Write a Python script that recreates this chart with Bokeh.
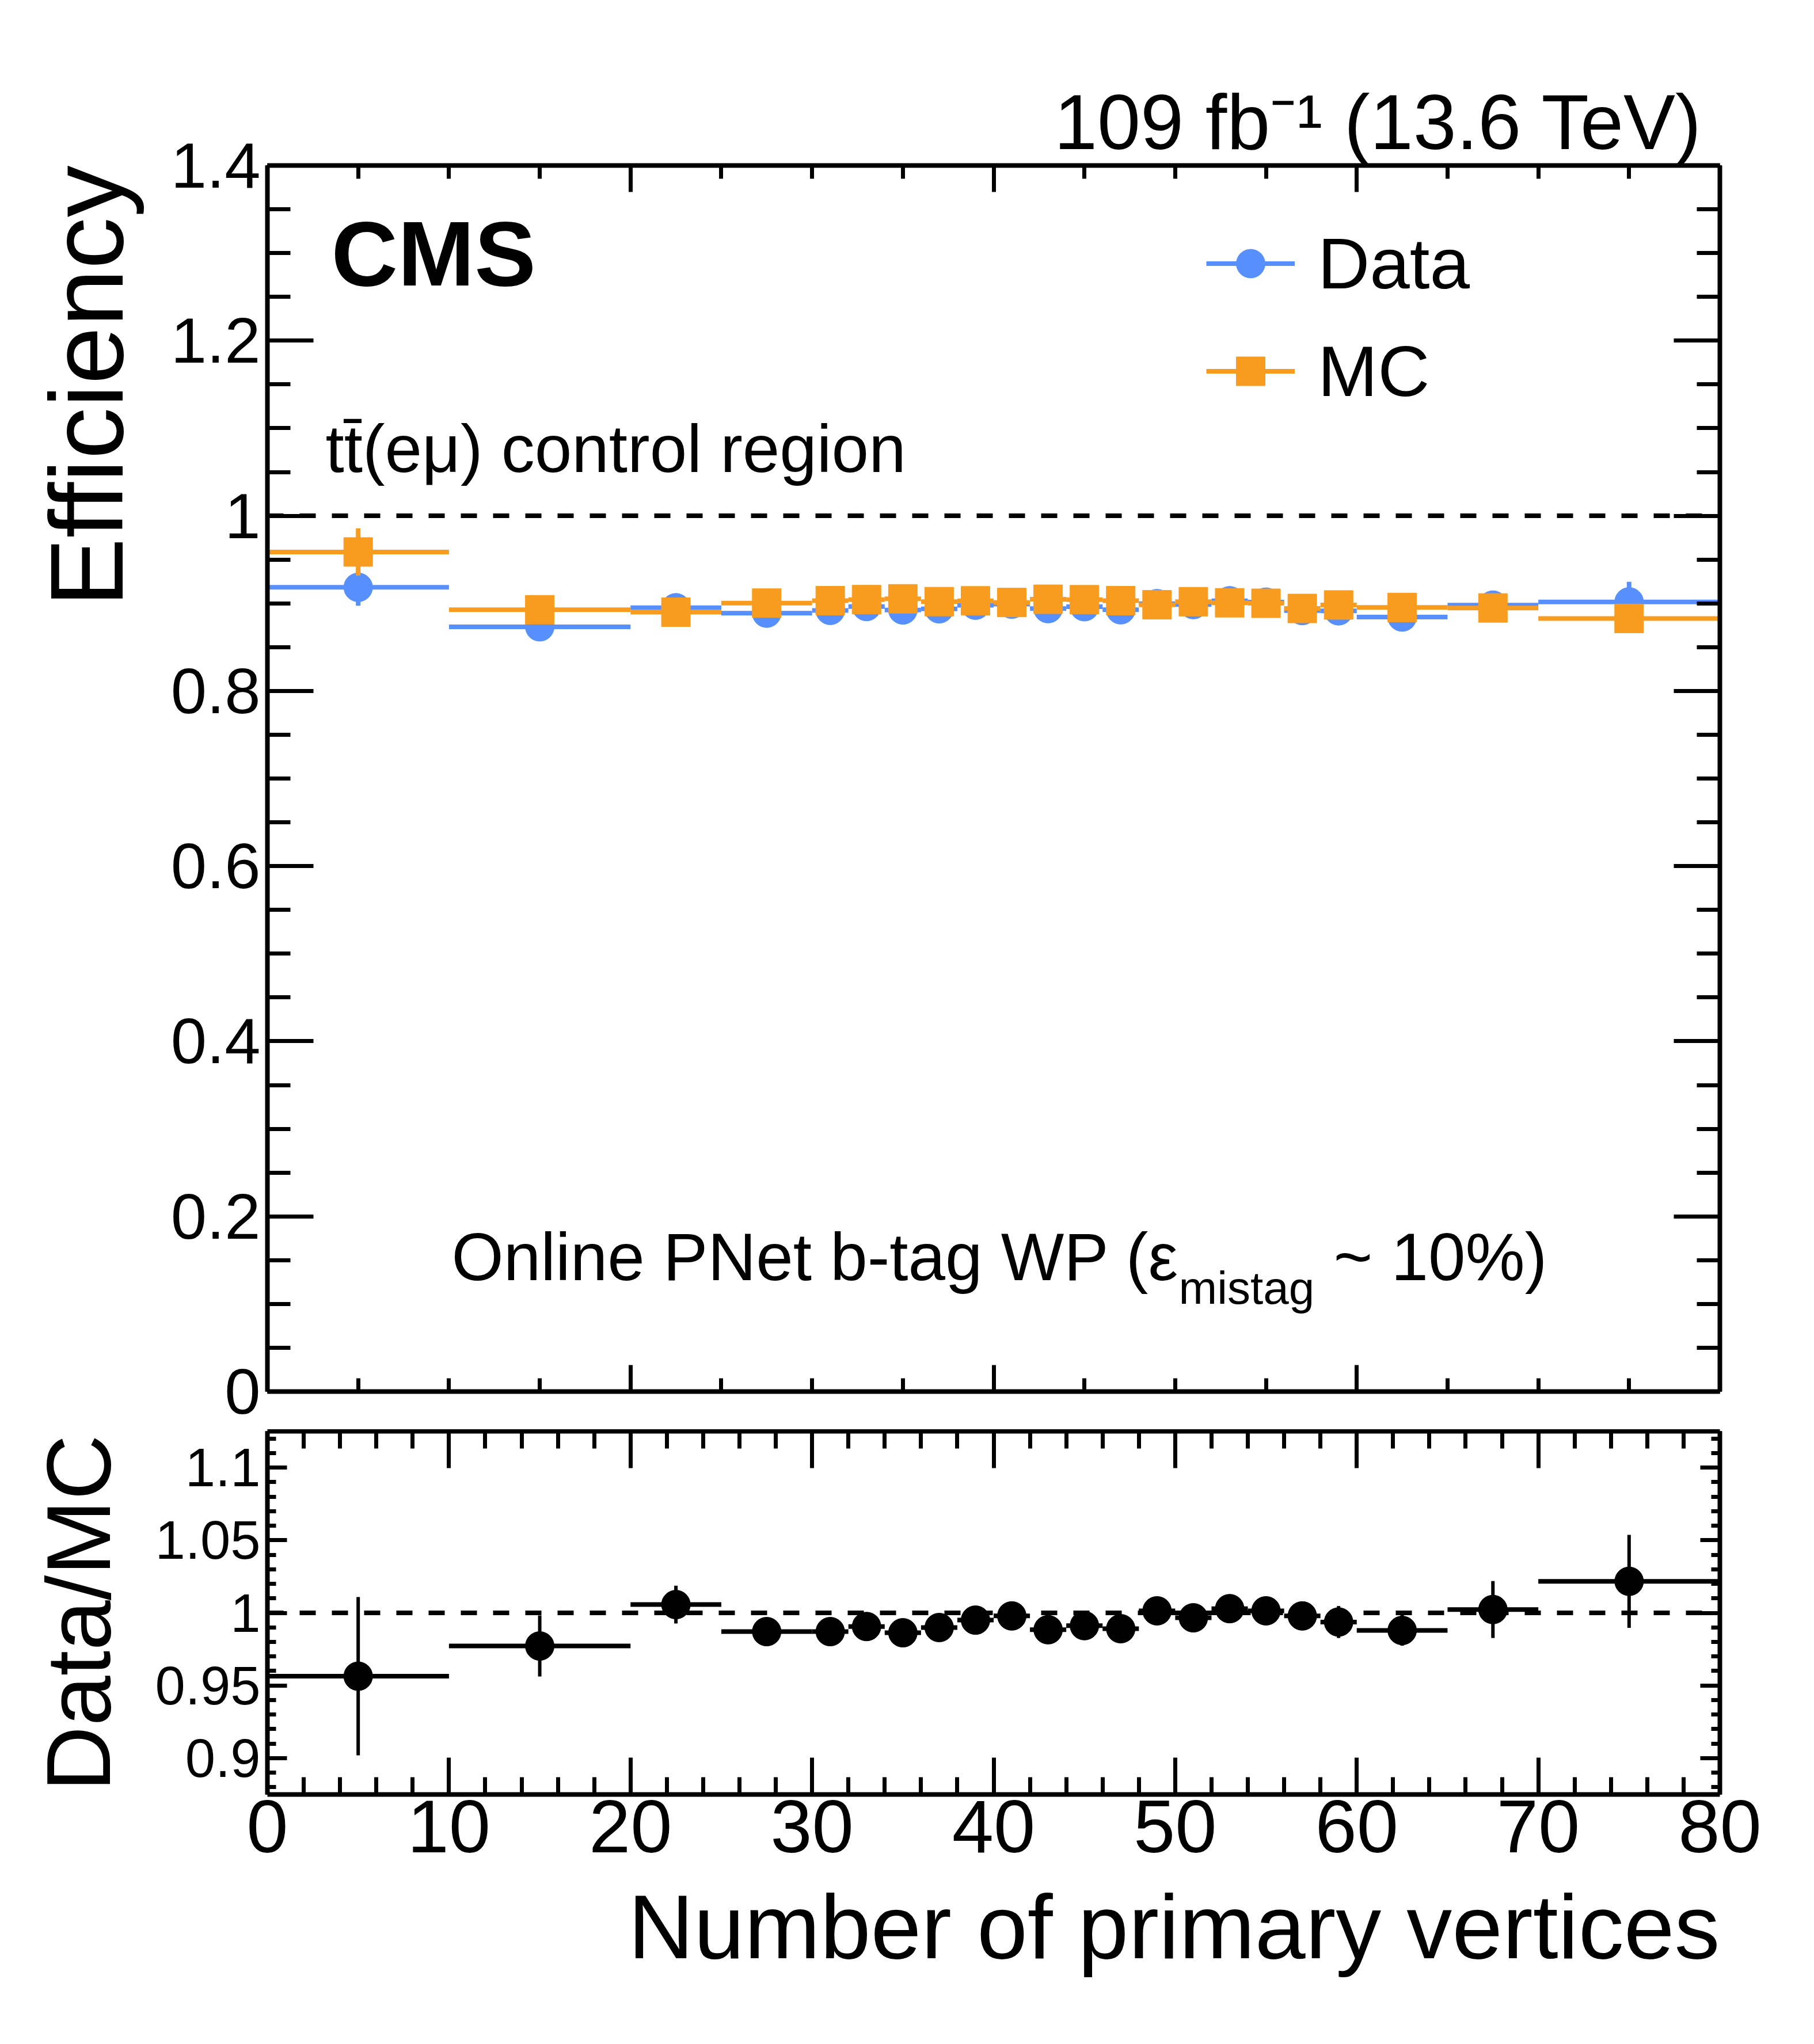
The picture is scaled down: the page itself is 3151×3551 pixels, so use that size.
import numpy as np
from bokeh.plotting import figure
from bokeh.models import (ColumnDataSource, FixedTicker, LinearAxis, Range1d, Span,
                          Label, Legend, LegendItem, CustomJSTickFormatter, Title)
from bokeh.layouts import column
from bokeh.embed import file_html
from bokeh.resources import INLINE

# ---------------- data ----------------
bin_lo = [0, 10, 20, 25, 30, 32, 34, 36, 38, 40, 42, 44, 46, 48, 50, 52, 54, 56, 58, 60, 65, 70]
bin_hi = [10, 20, 25, 30, 32, 34, 36, 38, 40, 42, 44, 46, 48, 50, 52, 54, 56, 58, 60, 65, 70, 80]
bin_center = [5, 15, 22.5, 27.5, 31, 33, 35, 37, 39, 41, 43, 45, 47, 49, 51, 53, 55, 57, 59, 62.5, 67.5, 75]

eff_data = [0.9183, 0.8732, 0.8950, 0.8888, 0.8920, 0.8964, 0.8925, 0.8938, 0.8979, 0.8991, 0.8940,
            0.8962, 0.8927, 0.8997, 0.8986, 0.9030, 0.9014, 0.8918, 0.8915, 0.8844, 0.8980, 0.9017]
eff_data_err = [0.021, 0.009, 0.007, 0.005, 0.005, 0.005, 0.005, 0.005, 0.005, 0.005, 0.005,
                0.005, 0.005, 0.006, 0.006, 0.006, 0.006, 0.006, 0.007, 0.008, 0.012, 0.023]
eff_mc = [0.9587, 0.8927, 0.8899, 0.9003, 0.9031, 0.9043, 0.9052, 0.9020, 0.9029, 0.9010, 0.9047,
          0.9042, 0.9031, 0.8984, 0.9019, 0.9007, 0.9001, 0.8942, 0.8982, 0.8953, 0.8948, 0.8828]
eff_mc_err = [0.027, 0.010, 0.008, 0.004, 0.004, 0.004, 0.004, 0.004, 0.004, 0.004, 0.004,
              0.004, 0.004, 0.004, 0.004, 0.005, 0.005, 0.005, 0.005, 0.006, 0.010, 0.014]
ratio = [0.9564, 0.9772, 1.0057, 0.9871, 0.9871, 0.9906, 0.9863, 0.9899, 0.9950, 0.9979, 0.9884,
         0.9912, 0.9891, 1.0014, 0.9966, 1.0029, 1.0014, 0.9979, 0.9937, 0.9879, 1.0023, 1.0217]
ratio_err = [0.0545, 0.021, 0.013, 0.006, 0.006, 0.006, 0.006, 0.006, 0.006, 0.007, 0.007,
             0.007, 0.007, 0.008, 0.008, 0.008, 0.009, 0.009, 0.011, 0.0105, 0.0196, 0.032]

eff_y_ticks = [0, 0.2, 0.4, 0.6, 0.8, 1.0, 1.2, 1.4]
ratio_y_ticks = [0.9, 0.95, 1.0, 1.05, 1.1]
x_ticks_main = [0, 20, 40, 60, 80]
x_ticks_ratio = [0, 10, 20, 30, 40, 50, 60, 70, 80]

BLUE = "#5790fc"
ORANGE = "#f89c20"
FONT = "Liberation Sans"

# ---------------- geometry (page pixels) ----------------
W = 3135
H1 = 2483
H2 = 1052
FL, FR = 472, 2995
T1, B1 = 295, 2425
T2, B2 = 2494, 3125
Y1MAX = 1.4
Y2MIN, Y2MAX = 0.875, 1.125


def x_of(px):
    return 80.0 * (px - FL) / (FR - FL)


def y1_of(py):
    return Y1MAX * (B1 - py) / (B1 - T1)


src = ColumnDataSource(dict(
    x=bin_center, xlo=bin_lo, xhi=bin_hi,
    d=eff_data,
    d_lo=list(np.array(eff_data) - np.array(eff_data_err)),
    d_hi=list(np.array(eff_data) + np.array(eff_data_err)),
    m=eff_mc,
    m_lo=list(np.array(eff_mc) - np.array(eff_mc_err)),
    m_hi=list(np.array(eff_mc) + np.array(eff_mc_err)),
    r=ratio,
    r_lo=list(np.array(ratio) - np.array(ratio_err)),
    r_hi=list(np.array(ratio) + np.array(ratio_err)),
))

fmt = CustomJSTickFormatter(code="return String(Math.round(tick*1000)/1000);")
nofmt = CustomJSTickFormatter(code="return '';")


def style_axis(ax, major, minor, tin, tmin, labels, fsize="118px", standoff=18):
    ax.ticker = FixedTicker(ticks=major, minor_ticks=minor)
    ax.axis_line_width = 8
    ax.axis_line_color = "black"
    ax.major_tick_in = tin
    ax.major_tick_out = 0
    ax.minor_tick_in = tmin
    ax.minor_tick_out = 0
    ax.major_tick_line_width = 7
    ax.minor_tick_line_width = 7
    ax.major_tick_line_color = "black"
    ax.minor_tick_line_color = "black"
    if labels:
        ax.formatter = fmt
        ax.major_label_text_font = FONT
        ax.major_label_text_font_size = fsize
        ax.major_label_text_color = "black"
        ax.major_label_standoff = standoff
    else:
        ax.formatter = nofmt
        ax.major_label_text_font_size = "1px"
        ax.major_label_standoff = 0


def side_title(text, size, standoff, offset=0):
    return Title(text=text, align="right", text_font=FONT, text_font_size=size,
                 text_font_style="normal", text_color="black",
                 standoff=standoff, offset=offset)


# ---------------- main panel ----------------
p1 = figure(width=W, height=H1, output_backend="svg", toolbar_location=None,
            x_range=Range1d(0, 80), y_range=Range1d(0, Y1MAX),
            title="109 fb\u207b\u00b9 (13.6 TeV)",
            min_border_left=FL - 8, min_border_right=(8 + W) - FR,
            min_border_top=T1 - 8, min_border_bottom=(8 + H1) - B1)
p1.title.align = "right"
p1.title.text_font = FONT
p1.title.text_font_size = "135px"
p1.title.text_font_style = "normal"
p1.title.text_color = "black"
p1.title.offset = 30
p1.title.standoff = 0
p1.xgrid.visible = False
p1.ygrid.visible = False
p1.outline_line_color = None
p1.background_fill_color = "white"

main_x_minor = list(range(0, 81, 5))
main_y_minor = [round(0.05 * i, 2) for i in range(29)]
style_axis(p1.xaxis[0], x_ticks_main, main_x_minor, 46, 23, False)
style_axis(p1.yaxis[0], eff_y_ticks, main_y_minor, 80, 40, True, "112px", 12)
p1.add_layout(side_title("Efficiency", "180px", 85), "left")
top1 = LinearAxis()
style_axis(top1, x_ticks_main, main_x_minor, 46, 23, False)
p1.add_layout(top1, "above")
right1 = LinearAxis()
style_axis(right1, eff_y_ticks, main_y_minor, 80, 40, False)
p1.add_layout(right1, "right")

p1.add_layout(Span(location=1.0, dimension="width", line_color="black",
                   line_width=8, line_dash="28 28"))

dh = p1.segment(x0="xlo", y0="d", x1="xhi", y1="d", source=src, line_color=BLUE, line_width=8)
p1.segment(x0="x", y0="d_lo", x1="x", y1="d_hi", source=src, line_color=BLUE, line_width=8)
dp = p1.scatter("x", "d", source=src, marker="circle", size=50, fill_color=BLUE, line_color=BLUE)
mh = p1.segment(x0="xlo", y0="m", x1="xhi", y1="m", source=src, line_color=ORANGE, line_width=8)
p1.segment(x0="x", y0="m_lo", x1="x", y1="m_hi", source=src, line_color=ORANGE, line_width=8)
mp = p1.scatter("x", "m", source=src, marker="square", size=50, fill_color=ORANGE, line_color=ORANGE)

legend = Legend(items=[LegendItem(label="Data", renderers=[dh, dp]),
                       LegendItem(label="MC", renderers=[mh, mp])],
                location=(2103 - FL, B1 - 724),
                glyph_width=154, glyph_height=125, label_height=125,
                label_standoff=40, spacing=44, padding=0, margin=0,
                border_line_color=None, background_fill_alpha=0,
                label_text_font=FONT, label_text_font_size="125px",
                label_text_color="black")
p1.add_layout(legend, "center")


def lab(p, px, py, text, size, align="left", bold=False):
    # py is the wanted baseline (page px); a small em-based correction is applied
    corr = 0.28 * size
    p.add_layout(Label(x=x_of(px), y=y1_of(py - corr), text=text, text_font=FONT,
                       text_font_size="%dpx" % size,
                       text_align=align, text_baseline="alphabetic",
                       text_font_style="bold" if bold else "normal",
                       text_color="black"))


lab(p1, 583, 493, "CMS", 160, bold=True)
lab(p1, 573, 820, "tt\u0304(e\u03bc) control region", 116)
lab(p1, 792, 2224, "Online PNet b-tag WP (\u03b5", 116)
lab(p1, 2055, 2267, "mistag", 80)
lab(p1, 2324, 2224, "~ 10%)", 116)

# ---------------- ratio panel ----------------
p2 = figure(width=W, height=H2, output_backend="svg", toolbar_location=None,
            x_range=Range1d(0, 80), y_range=Range1d(Y2MIN, Y2MAX),
            min_border_left=FL - 8, min_border_right=(8 + W) - FR,
            min_border_top=T2 - (8 + H1), min_border_bottom=(8 + H1 + H2) - B2)
p2.xgrid.visible = False
p2.ygrid.visible = False
p2.outline_line_color = None

ratio_x_minor = list(range(0, 81, 2))
ratio_y_minor = [round(0.88 + 0.01 * i, 2) for i in range(25)]
style_axis(p2.xaxis[0], x_ticks_ratio, ratio_x_minor, 64, 30, True, "130px", 10)
p2.add_layout(side_title("Number of primary vertices", "158px", 72), "below")
style_axis(p2.yaxis[0], ratio_y_ticks, ratio_y_minor, 34, 15, True, "94px", 12)
p2.add_layout(side_title("Data/MC", "157px", 85, 6), "left")
top2 = LinearAxis()
style_axis(top2, x_ticks_ratio, ratio_x_minor, 64, 30, False)
p2.add_layout(top2, "above")
right2 = LinearAxis()
style_axis(right2, ratio_y_ticks, ratio_y_minor, 34, 15, False)
p2.add_layout(right2, "right")

p2.add_layout(Span(location=1.0, dimension="width", line_color="black",
                   line_width=8, line_dash="28 28"))
p2.segment(x0="xlo", y0="r", x1="xhi", y1="r", source=src, line_color="black", line_width=8)
p2.segment(x0="x", y0="r_lo", x1="x", y1="r_hi", source=src, line_color="black", line_width=6)
p2.scatter("x", "r", source=src, marker="circle", size=50, fill_color="black", line_color="black")

layout = column(p1, p2, spacing=0)
open("out.html", "w").write(file_html(layout, INLINE))
